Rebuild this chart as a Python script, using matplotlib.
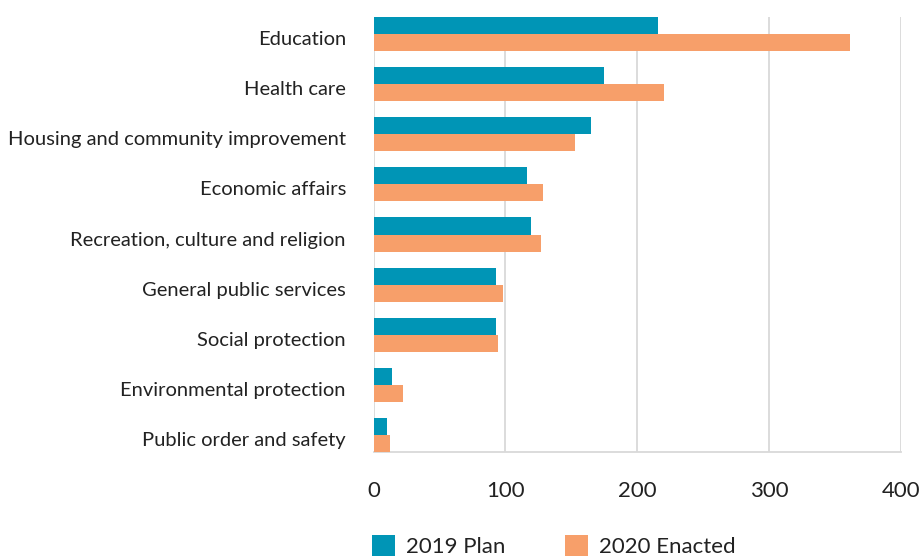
import matplotlib
matplotlib.use("Agg")
import matplotlib.pyplot as plt
import numpy as np

categories = ["Education", "Health care", "Housing and community improvement",
              "Economic affairs", "Recreation, culture and religion",
              "General public services", "Social protection",
              "Environmental protection", "Public order and safety"]
plan_2019 = [216, 175, 165, 116.5, 119.5, 93, 93, 14, 10]
enacted_2020 = [361.5, 220.5, 153, 128.5, 127, 98, 94.5, 22, 12.5]
series_names = ["2019 Plan", "2020 Enacted"]
xticks = [0, 100, 200, 300, 400]

plt.rcParams['font.family'] = ['Lato', 'DejaVu Sans']

fig = plt.figure(figsize=(9.21, 5.56), dpi=100)
ax = fig.add_axes([373.7/921, 1-452/556, (900.7-373.7)/921, (452-17)/556])

teal = "#0095B6"
orange = "#F79F6A"
h = 0.34
y = np.arange(len(categories))
ax.barh(y - h/2, plan_2019, height=h, color=teal, label=series_names[0], zorder=3)
ax.barh(y + h/2, enacted_2020, height=h, color=orange, label=series_names[1], zorder=3)

ax.set_ylim(len(categories) - 1 + h, -h)
ax.set_xlim(0, 400)
ax.set_xticks(xticks)
ax.set_xticklabels([str(t) for t in xticks], fontsize=16, color="#222222")
ax.set_yticks(y + 0.08)
ax.set_yticklabels(categories, fontsize=14.5, color="#222222")
ax.tick_params(axis='both', length=0)
ax.tick_params(axis='x', pad=21)
ax.tick_params(axis='y', pad=20)
ax.grid(axis='x', color="#d9d9d9", linewidth=1.3, zorder=0)
for s in ["top", "right", "left"]:
    ax.spines[s].set_visible(False)
ax.spines["bottom"].set_color("#d9d9d9")
ax.spines["bottom"].set_linewidth(1.3)

leg = fig.legend(*ax.get_legend_handles_labels(), loc="upper left",
                 bbox_to_anchor=(372/921, 1-535/556), ncol=2, frameon=False,
                 fontsize=16, handlelength=1.05, handleheight=1.05, columnspacing=2.65,
                 handletextpad=0.5, borderaxespad=0, borderpad=0)
for t in leg.get_texts():
    t.set_color("#222222")

fig.savefig("out.png", dpi=100)
